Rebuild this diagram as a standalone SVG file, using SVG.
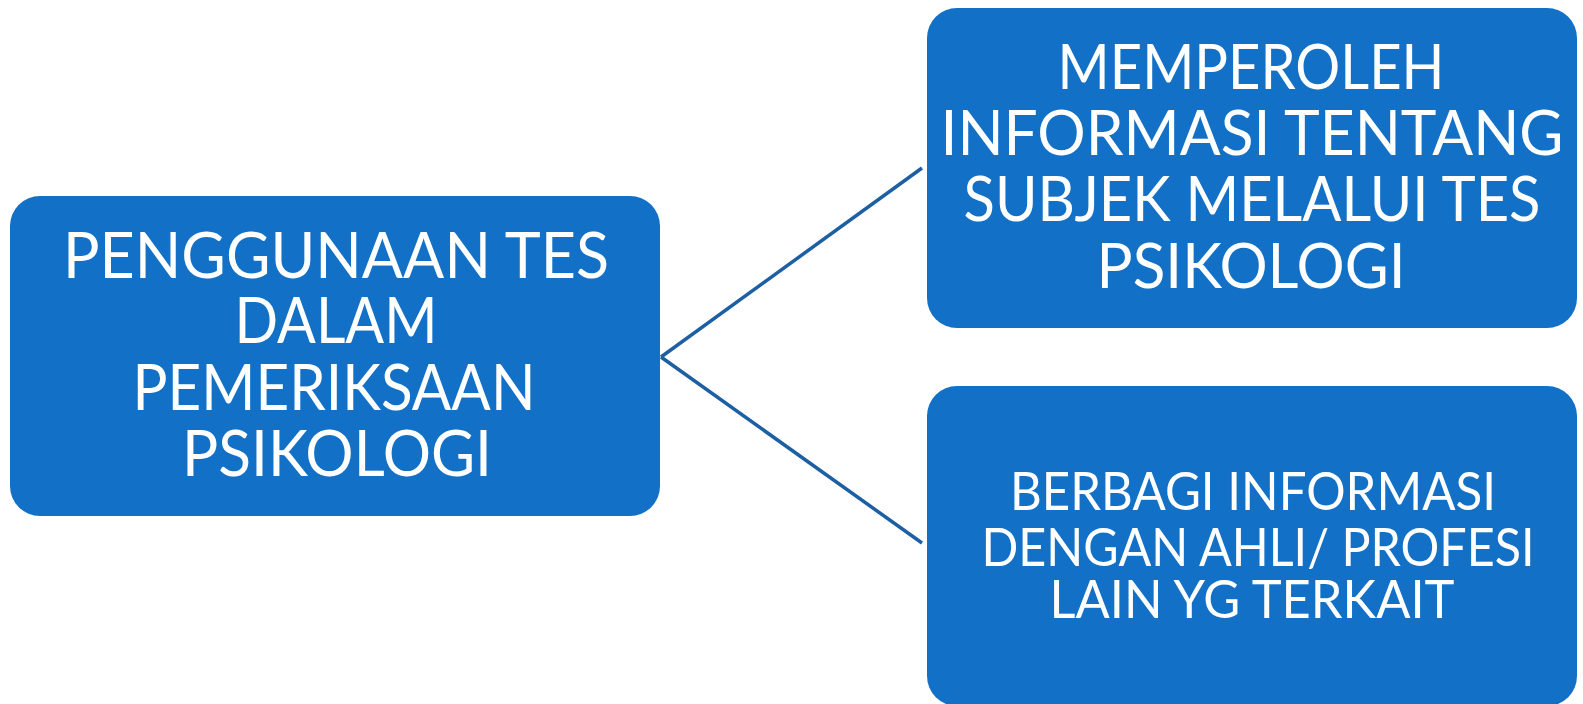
<svg xmlns="http://www.w3.org/2000/svg" width="1583" height="704" viewBox="0 0 1583 704">
<style>
.box{fill:#1271C6;}
.t{fill:#FFFFFF;font-family:Lato,"Open Sans","Liberation Sans",sans-serif;text-anchor:middle;}
.big{font-size:64px;}
.mid{font-size:61px;}
.sm{font-size:53px;}
.conn{stroke:#1D5FA3;stroke-width:3.5;fill:none;}
</style>
<rect width="1583" height="704" fill="#FFFFFF"/>
<g id="connectors">
<line class="conn" x1="661" y1="357" x2="922" y2="168"/>
<line class="conn" x1="661" y1="357" x2="922" y2="543"/>
</g>
<g id="node-main">
<rect class="box" x="10" y="196" width="650" height="320" rx="30"/>
<text class="t big" x="336" y="278" textLength="546" lengthAdjust="spacingAndGlyphs">PENGGUNAAN TES</text>
<text class="t big" x="336" y="343" textLength="203" lengthAdjust="spacingAndGlyphs">DALAM</text>
<text class="t big" x="334" y="410" textLength="403" lengthAdjust="spacingAndGlyphs">PEMERIKSAAN</text>
<text class="t big" x="337" y="476" textLength="310" lengthAdjust="spacingAndGlyphs">PSIKOLOGI</text>
</g>
<g id="node-top">
<rect class="box" x="927" y="8" width="650" height="320" rx="30"/>
<text class="t mid" x="1251" y="89" textLength="387" lengthAdjust="spacingAndGlyphs">MEMPEROLEH</text>
<text class="t mid" x="1252" y="155" textLength="623" lengthAdjust="spacingAndGlyphs">INFORMASI TENTANG</text>
<text class="t mid" x="1252" y="221" textLength="577" lengthAdjust="spacingAndGlyphs">SUBJEK MELALUI TES</text>
<text class="t mid" x="1251" y="288" textLength="309" lengthAdjust="spacingAndGlyphs">PSIKOLOGI</text>
</g>
<g id="node-bottom">
<rect class="box" x="927" y="386" width="650" height="320" rx="30"/>
<text class="t sm" x="1253" y="510" textLength="486" lengthAdjust="spacingAndGlyphs">BERBAGI INFORMASI</text>
<text class="t sm" x="1258" y="566" textLength="553" lengthAdjust="spacingAndGlyphs">DENGAN AHLI/ PROFESI</text>
<text class="t sm" x="1252" y="618" textLength="405" lengthAdjust="spacingAndGlyphs">LAIN YG TERKAIT</text>
</g>
</svg>
